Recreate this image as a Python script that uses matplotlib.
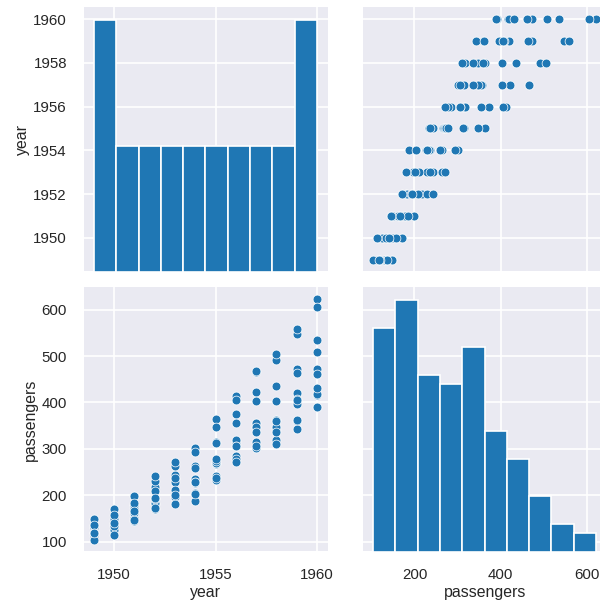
import matplotlib

matplotlib.use("Agg")

import matplotlib.pyplot as plt
import pandas as pd
import seaborn as sns
from matplotlib.ticker import MultipleLocator

# monthly airline passengers (thousands), Jan..Dec
years = [1949, 1950, 1951, 1952, 1953, 1954, 1955, 1956, 1957, 1958, 1959, 1960]
passengers_1949 = [112, 118, 132, 129, 121, 135, 148, 148, 136, 119, 104, 118]
passengers_1950 = [115, 126, 141, 135, 125, 149, 170, 170, 158, 133, 114, 140]
passengers_1951 = [145, 150, 178, 163, 172, 178, 199, 199, 184, 162, 146, 166]
passengers_1952 = [171, 180, 193, 181, 183, 218, 230, 242, 209, 191, 172, 194]
passengers_1953 = [196, 196, 236, 235, 229, 243, 264, 272, 237, 211, 180, 201]
passengers_1954 = [204, 188, 235, 227, 234, 264, 302, 293, 259, 229, 203, 229]
passengers_1955 = [242, 233, 267, 269, 270, 315, 364, 347, 312, 274, 237, 278]
passengers_1956 = [284, 277, 317, 313, 318, 374, 413, 405, 355, 306, 271, 306]
passengers_1957 = [315, 301, 356, 348, 355, 422, 465, 467, 404, 347, 305, 336]
passengers_1958 = [340, 318, 362, 348, 363, 435, 491, 505, 404, 359, 310, 337]
passengers_1959 = [360, 342, 406, 396, 420, 472, 548, 559, 463, 407, 362, 405]
passengers_1960 = [417, 391, 419, 461, 472, 535, 622, 606, 508, 461, 390, 432]

by_year = [
    passengers_1949, passengers_1950, passengers_1951, passengers_1952,
    passengers_1953, passengers_1954, passengers_1955, passengers_1956,
    passengers_1957, passengers_1958, passengers_1959, passengers_1960,
]

rows = []
for y, vals in zip(years, by_year):
    for v in vals:
        rows.append({"year": y, "passengers": v})
df = pd.DataFrame(rows)

sns.set_theme(style="darkgrid")
plt.rcParams["font.family"] = ["Liberation Sans", "DejaVu Sans"]
plt.rcParams["xtick.labelsize"] = 9
plt.rcParams["ytick.labelsize"] = 9
plt.rcParams["axes.labelsize"] = 9.5
plt.rcParams["axes.labelpad"] = 2

blue = "#1f77b4"
g = sns.PairGrid(df, height=2.5, diag_sharey=False)
g.map_diag(plt.hist, bins=10, color=blue, edgecolor="white", linewidth=1)
g.map_offdiag(sns.scatterplot, color=blue, s=28)

g.axes[0, 0].yaxis.set_major_locator(MultipleLocator(2))
g.axes[1, 0].xaxis.set_major_locator(MultipleLocator(5))

fig = g.figure
fig.set_size_inches(5.0, 5.025)
# the original is cropped a little on the right edge
fig.subplots_adjust(left=0.138, right=1.012, top=0.988, bottom=0.085,
                    wspace=0.139, hspace=0.06)
fig.savefig("out.png", dpi=120)
plt.close(fig)
